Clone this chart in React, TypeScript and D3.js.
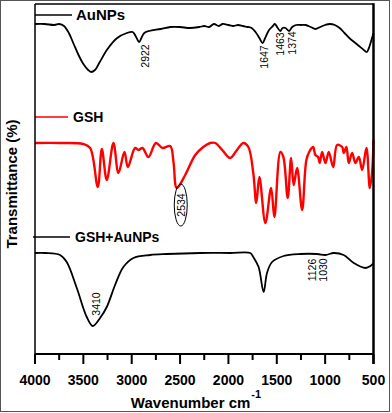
import React, { useEffect, useRef } from 'react';
import * as d3 from 'd3';

// [wavenumber, transmittance (offset, a.u.)]
const auNPs: [number, number][] = [
  [4000, 330], [3900, 330], [3800, 329], [3750, 330], [3700, 328], [3650, 321], [3600, 310],
  [3550, 299], [3500, 290], [3450, 284], [3420, 282], [3380, 284], [3330, 292], [3250, 305],
  [3150, 316], [3050, 321], [2990, 322], [2960, 318], [2922, 312], [2900, 316], [2870, 321],
  [2820, 323], [2700, 325], [2600, 327], [2500, 327], [2400, 326], [2300, 327], [2250, 328],
  [2200, 327], [2150, 330], [2100, 328], [2060, 330], [2000, 329], [1950, 328], [1900, 329],
  [1850, 328], [1800, 327], [1760, 326], [1720, 322], [1680, 316], [1647, 311], [1620, 316],
  [1580, 324], [1540, 328], [1520, 330], [1490, 326], [1463, 323], [1440, 326], [1410, 326],
  [1374, 323], [1340, 327], [1300, 329], [1250, 329], [1200, 329], [1150, 327], [1100, 325],
  [1050, 327], [1000, 329], [950, 330], [900, 329], [850, 326], [800, 321], [750, 316],
  [700, 312], [650, 308], [600, 304], [570, 302], [540, 308], [500, 321],
];

const gsh: [number, number][] = [
  [4000, 211], [3741, 211], [3503, 210], [3430, 206], [3351, 167], [3309, 205], [3258, 174],
  [3189, 211], [3137, 181], [3075, 202], [3040, 187], [2965, 206], [2930, 204], [2889, 206],
  [2827, 197], [2750, 211], [2682, 206], [2602, 208], [2568, 192], [2534, 166], [2447, 179],
  [2343, 199], [2260, 207], [2188, 211], [2136, 211], [2064, 204], [1981, 196], [1919, 203],
  [1846, 211], [1794, 207], [1743, 181], [1712, 151], [1680, 177], [1618, 131], [1559, 166],
  [1525, 137], [1463, 202], [1432, 197], [1387, 156], [1352, 196], [1325, 169], [1290, 186],
  [1238, 144], [1194, 194], [1160, 203], [1124, 207], [1101, 199], [1073, 197], [1056, 191],
  [1031, 202], [997, 191], [963, 202], [917, 187], [876, 209], [824, 207], [808, 201],
  [780, 207], [756, 191], [721, 201], [687, 191], [652, 197], [617, 184], [573, 206],
  [538, 166], [513, 184], [500, 214],
];

const gshAuNPs: [number, number][] = [
  [4000, 101], [3896, 101], [3741, 99], [3672, 92], [3568, 66], [3465, 37], [3402, 28],
  [3327, 36], [3258, 47], [3172, 69], [3086, 87], [2982, 96], [2809, 99], [2636, 100],
  [2291, 101], [1981, 101], [1774, 101], [1743, 97], [1688, 87], [1636, 62], [1601, 81],
  [1549, 92], [1429, 98], [1256, 100], [1083, 100], [997, 99], [911, 101], [808, 99],
  [704, 91], [583, 86], [531, 88], [500, 91],
];

const seriesNames = ['AuNPs', 'GSH', 'GSH+AuNPs'];
const seriesLegendY = [339, 237, 117];

// peak labels: text, wavenumber of label centre, value of label centre
const peakLabels: [string, number, number][] = [
  ['2922', 2860, 298], ['1647', 1629, 297], ['1463', 1463, 310], ['1374', 1339, 311],
  ['2534', 2493, 149],
  ['3410', 3368, 50], ['1126', 1132, 84], ['1030', 1018, 84],
];
const circledPeak = '2534';

const xTicks = [4000, 3500, 3000, 2500, 2000, 1500, 1000, 500];
const xMinorTicks = [3750, 3250, 2750, 2250, 1750, 1250, 750];

const W = 392;
const H = 413;
const margin = { left: 35, right: 18.5, top: 4, bottom: 59 };

export default function App() {
  const svgRef = useRef<SVGSVGElement>(null);

  useEffect(() => {
    const svg = d3.select(svgRef.current);
    svg.selectAll('*').remove();

    const x = d3.scaleLinear().domain([4000, 500]).range([margin.left, W - margin.right]);
    const y = d3.scaleLinear().domain([0, 350]).range([H - margin.bottom, margin.top]);
    const font = 'Arial, "Liberation Sans", sans-serif';

    // outer frame
    svg.append('rect')
      .attr('x', 0.5).attr('y', 0.5).attr('width', 389).attr('height', 411)
      .attr('fill', '#fff').attr('stroke', '#555').attr('stroke-width', 1);

    const line = d3.line<[number, number]>()
      .x(d => x(d[0]))
      .y(d => y(d[1]))
      .curve(d3.curveCatmullRom.alpha(0.5));

    const colors = ['#000', '#ff0000', '#000'];
    const widths = [1.8, 2.4, 1.8];
    [auNPs, gsh, gshAuNPs].forEach((data, i) => {
      svg.append('path')
        .datum(data)
        .attr('fill', 'none')
        .attr('stroke', colors[i])
        .attr('stroke-width', widths[i])
        .attr('stroke-linejoin', 'round')
        .attr('d', line);
    });

    // legend entries
    const legendLen = [37, 33, 35];
    const legendFont = [15, 14, 14];
    seriesNames.forEach((name, i) => {
      const ly = y(seriesLegendY[i]);
      svg.append('line')
        .attr('x1', margin.left - (i === 2 ? 2 : 0)).attr('x2', margin.left + legendLen[i])
        .attr('y1', ly).attr('y2', ly)
        .attr('stroke', colors[i]).attr('stroke-width', 1.6);
      svg.append('text')
        .attr('x', margin.left + legendLen[i] + (i === 0 ? 4 : 5))
        .attr('y', ly + 5)
        .attr('font-family', font).attr('font-weight', 'bold').attr('font-size', legendFont[i])
        .text(name);
    });

    // peak annotations
    peakLabels.forEach(([t, wn, v]) => {
      const px = x(wn);
      const py = y(v);
      if (t === circledPeak) {
        svg.append('ellipse')
          .attr('cx', px).attr('cy', py).attr('rx', 6.5).attr('ry', 21)
          .attr('fill', 'none').attr('stroke', '#000').attr('stroke-width', 1);
      }
      svg.append('text')
        .attr('transform', `translate(${px},${py}) rotate(-90)`)
        .attr('text-anchor', 'middle')
        .attr('dominant-baseline', 'central')
        .attr('font-family', font).attr('font-size', 10.5)
        .text(t);
    });

    // plot box
    const x0 = margin.left;
    const x1 = W - margin.right;
    const y0 = margin.top;
    const yb = H - margin.bottom;
    svg.append('line').attr('x1', x0).attr('x2', x1).attr('y1', y0).attr('y2', y0)
      .attr('stroke', '#000').attr('stroke-width', 1.5);
    svg.append('line').attr('x1', x0).attr('x2', x0).attr('y1', y0).attr('y2', yb + 10)
      .attr('stroke', '#000').attr('stroke-width', 1.5);
    svg.append('line').attr('x1', x1).attr('x2', x1).attr('y1', y0 - 0.7).attr('y2', yb + 10)
      .attr('stroke', '#000').attr('stroke-width', 2.5);

    // x axis
    const axis = svg.append('g').attr('transform', `translate(0,${yb})`);
    axis.append('line').attr('x1', x0).attr('x2', x1).attr('stroke', '#000').attr('stroke-width', 2.2);
    axis.selectAll('.major').data(xTicks).enter().append('line')
      .attr('x1', d => x(d)).attr('x2', d => x(d)).attr('y1', 0).attr('y2', 10)
      .attr('stroke', '#000').attr('stroke-width', 2);
    axis.selectAll('.minor').data(xMinorTicks).enter().append('line')
      .attr('x1', d => x(d)).attr('x2', d => x(d)).attr('y1', 0).attr('y2', 6)
      .attr('stroke', '#000').attr('stroke-width', 2);
    axis.selectAll('.lbl').data(xTicks).enter().append('text')
      .attr('x', d => x(d)).attr('y', 31)
      .attr('text-anchor', 'middle')
      .attr('font-family', font).attr('font-weight', 'bold').attr('font-size', 14)
      .text(d => d);

    const title = svg.append('text')
      .attr('x', 196).attr('y', 408)
      .attr('text-anchor', 'middle')
      .attr('font-family', font).attr('font-weight', 'bold').attr('font-size', 15);
    title.append('tspan').text('Wavenumber cm');
    title.append('tspan').attr('font-size', 11).attr('dy', -10).attr('dx', 1).text('-1');

    svg.append('text')
      .attr('transform', 'translate(17,184) rotate(-90)')
      .attr('text-anchor', 'middle')
      .attr('font-family', font).attr('font-weight', 'bold').attr('font-size', 15)
      .text('Transmittance (%)');
  }, []);

  return (
    <svg ref={svgRef} width={W} height={H}
      style={{ position: 'absolute', left: 0, top: 0, background: '#fff' }} />
  );
}
